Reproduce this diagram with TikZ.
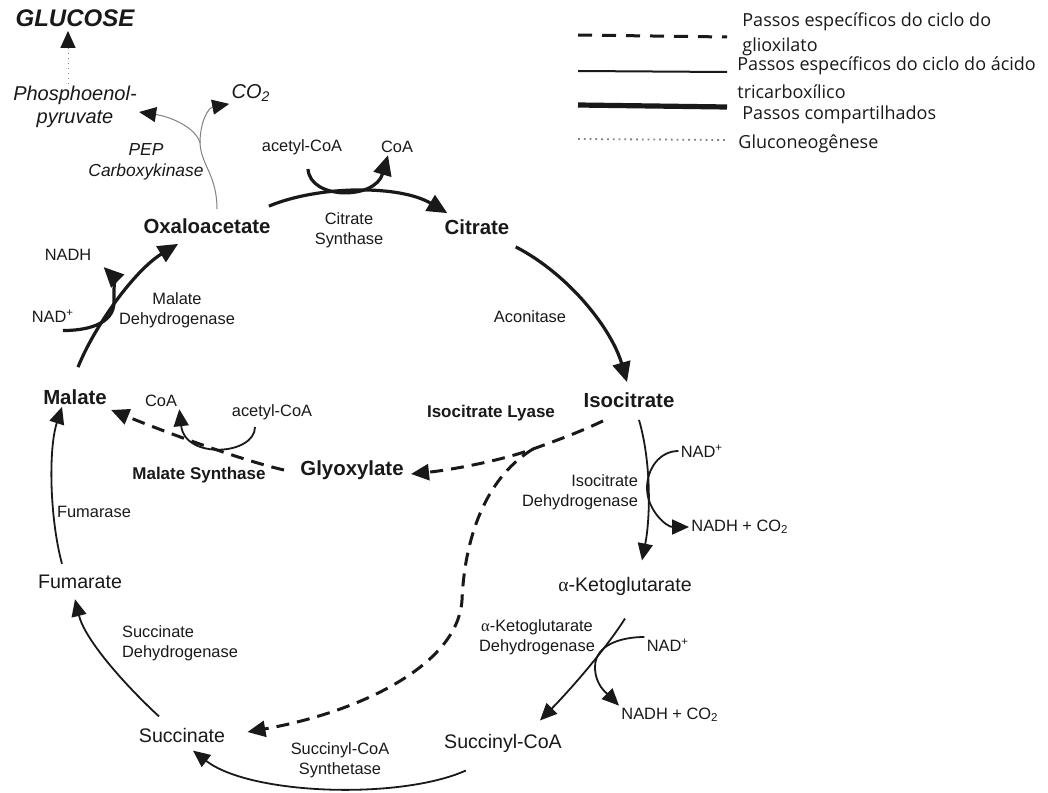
\documentclass[tikz,border=0pt]{standalone}
\usepackage{fontspec}
\setmainfont{Liberation Sans}
\newfontfamily\legendfont{Open Sans}
\newfontfamily\greekfont{Liberation Serif}
\usepackage{tikz}
\usetikzlibrary{arrows.meta,calc}
\definecolor{ink}{RGB}{25,25,25}
\definecolor{pepgray}{RGB}{130,130,130}
\newcommand{\alphaK}{{\greekfont α}}

\begin{document}
\begin{tikzpicture}[x=0.5pt, y=-0.5pt,
    every node/.style={inner sep=1pt, text=ink},
    metab/.style={font=\fontsize{10.2}{12}\selectfont\bfseries},
    metabplain/.style={font=\fontsize{9.8}{12}\selectfont},
    enzyme/.style={font=\fontsize{8.2}{9.8}\selectfont, align=center},
    enzymebold/.style={font=\fontsize{8.5}{10}\selectfont\bfseries},
    cofactor/.style={font=\fontsize{8.2}{10}\selectfont},
    gluconeo/.style={font=\fontsize{10}{11.5}\selectfont\itshape, align=center},
    legtext/.style={font=\fontsize{9}{12.5}\selectfont\legendfont, anchor=west, align=left},
    headarrow/.style={-{Triangle[length=8.5pt,width=7.5pt,color=ink]}},
    shared/.style={draw=ink, line width=1.6pt, -{Triangle[length=10pt,width=9pt]}},
    tca/.style={draw=ink, line width=0.9pt, headarrow},
    glyox/.style={draw=ink, line width=1.5pt, dash pattern=on 6.5pt off 4pt,
      -{Triangle[length=9pt,width=8pt]}},
    gluco/.style={draw=pepgray, line width=0.5pt, headarrow}]

  \fill[white] (0,0) rectangle (1048,792);
  \useasboundingbox (0,0) rectangle (1048,792);

  % metabolites
  \node[metab] (oaa) at (207,226) {Oxaloacetate};
  \node[metab] (cit) at (477,227) {Citrate};
  \node[metab] (icit) at (629,400) {Isocitrate};
  \node[metabplain] (akg) at (625,586) {\alphaK-Ketoglutarate};
  \node[metabplain] (sucoa) at (503,743) {Succinyl-CoA};
  \node[metabplain] (succ) at (182,735) {Succinate};
  \node[metabplain] (fum) at (80,582) {Fumarate};
  \node[metab] (mal) at (75,397) {Malate};
  \node[metab] (glx) at (352,470) {Glyoxylate};

  % gluconeogenesis
  \node[font=\fontsize{12}{14}\selectfont\bfseries\itshape] (glucose) at (75,18) {GLUCOSE};
  \node[gluconeo] (pep) at (75,107) {Phosphoenol-\\pyruvate};
  \node[gluconeo] (co2) at (251,93) {CO\textsubscript{2}};
  \node[gluconeo, font=\fontsize{8.7}{10.5}\selectfont\itshape] (pepck) at (146,162) {PEP\\Carboxykinase};

  % enzymes and cofactors
  \node[cofactor] (acoa1) at (302,147) {acetyl-CoA};
  \node[cofactor] (coa1) at (397,147) {CoA};
  \node[enzyme] (cs) at (349,230) {Citrate\\Synthase};
  \node[enzyme] (aco) at (530,317) {Aconitase};
  \node[enzymebold] (icl) at (491,413) {Isocitrate Lyase};
  \node[cofactor] (nad2) at (702,451) {NAD\textsuperscript{+}};
  \node[enzyme, align=right] (idh) at (580,492) {Isocitrate\\Dehydrogenase};
  \node[cofactor] (nadh2) at (740,527) {NADH + CO\textsubscript{2}};
  \node[enzyme] (kgdh) at (537,637) {\alphaK-Ketoglutarate\\Dehydrogenase};
  \node[cofactor] (nad3) at (668,645) {NAD\textsuperscript{+}};
  \node[cofactor] (nadh3) at (670,715) {NADH + CO\textsubscript{2}};
  \node[enzyme] (scs) at (340,760) {Succinyl-CoA\\Synthetase};
  \node[enzyme, align=left] (sdh) at (180,643) {Succinate\\Dehydrogenase};
  \node[enzyme] (fumase) at (94,512) {Fumarase};
  \node[cofactor] (coa2) at (161,401) {CoA};
  \node[cofactor] (acoa2) at (272,412) {acetyl-CoA};
  \node[enzymebold] (ms) at (199,475) {Malate Synthase};
  \node[cofactor] (nadh1) at (68,255) {NADH};
  \node[cofactor] (nad1) at (53,316) {NAD\textsuperscript{+}};
  \node[enzyme] (mdh) at (177,310) {Malate\\Dehydrogenase};

  % legend
  \node[legtext] (leg1) at (740,34) {Passos específicos do ciclo do\\glioxilato};
  \node[legtext, font=\fontsize{9}{14}\selectfont\legendfont] (leg2) at (735,78) {Passos específicos do ciclo do ácido\\tricarboxílico};
  \node[legtext] (leg3) at (740,115) {Passos compartilhados};
  \node[legtext] (leg4) at (736,144) {Gluconeogênese};
  \draw[draw=ink, line width=1.5pt, dash pattern=on 7pt off 5pt] (578,35) -- (727,37);
  \draw[draw=ink, line width=1pt] (578,71) -- (727,72);
  \draw[draw=ink, line width=2.6pt] (578,105) -- (727,107);
  \draw[draw=pepgray, line width=0.9pt, dotted] (578,139) -- (727,140);

  % gluconeogenesis branch
  \coordinate (fork) at (200,143);
  \draw[gluco, dotted] ([xshift=-3.5pt]pep.north) -- ([xshift=-3.5pt,yshift=-1pt]glucose.south);
  \draw[draw=pepgray, line width=0.5pt] ([xshift=5pt,yshift=3.5pt]oaa.north) .. controls (217,175) and (201,165) .. (fork);
  \draw[gluco] (fork) .. controls (196,128) and (172,117) .. ([yshift=-2.5pt]pep.east);
  \draw[gluco] (fork) .. controls (200,122) and (208,108) .. (co2.south west);

  % shared steps
  \draw[shared] ([xshift=-2pt,yshift=5pt]oaa.north east) .. controls (320,185) and (400,185) .. ([xshift=2.5pt,yshift=2pt]cit.north west);
  \draw[shared] ([xshift=3pt,yshift=-6pt]acoa1.south) .. controls (310,200) and (375,200) .. ([xshift=-4.5pt]coa1.south);
  \draw[shared] ([xshift=2pt,yshift=-5pt]cit.south east) .. controls (570,275) and (612,330) .. ([xshift=-1pt,yshift=4pt]icit.north);
  \draw[shared] ([xshift=1.5pt,yshift=10pt]mal.north) .. controls (95,325) and (135,270) .. ([xshift=18.5pt,yshift=-4pt]oaa.south west);
  \draw[shared] ([xshift=5pt,yshift=-3pt]nad1.south) to[out=0,in=-90] (114,302) to[out=90,in=-45] ([xshift=5pt,yshift=-2pt]nadh1.south east);

  % tricarboxylic acid cycle steps
  \draw[tca] ([xshift=5pt,yshift=-5pt]icit.south) .. controls (652,465) and (650,520) .. ([xshift=8.5pt,yshift=7pt]akg.north);
  \draw[tca] (nad2.west) to[out=180,in=90] (647,488) to[out=-90,in=180] (nadh2.west);
  \draw[tca] ([yshift=-10.5pt]akg.south) .. controls (605,650) and (570,690) .. ([xshift=18.5pt,yshift=5.5pt]sucoa.north);
  \draw[tca] ([yshift=4pt]nad3.west) to[out=180,in=90] (595,667) to[out=-90,in=135] (nadh3.north west);
  \draw[tca] ([xshift=12pt,yshift=-8pt]sucoa.south west) .. controls (400,800) and (250,795) .. ([xshift=5.5pt,yshift=-3pt]succ.south);
  \draw[tca] ([xshift=-11.5pt,yshift=4.5pt]succ.north) .. controls (125,685) and (85,640) .. ([xshift=-2.5pt,yshift=-4pt]fum.south);
  \draw[tca] ([xshift=-9pt,yshift=4.5pt]fum.north) .. controls (50,520) and (48,450) .. ([xshift=-6.5pt]mal.south);

  % glyoxylate cycle steps
  \coordinate (split) at (533,449);
  \draw[glyox] ([xshift=-13pt,yshift=-5.5pt]icit.south) .. controls (580,432) and (555,441) .. (split) .. controls (500,461) and (450,470) .. ([xshift=2.5pt,yshift=-2pt]glx.east);
  \draw[glyox] (split) .. controls (490,475) and (465,530) .. (462,600) .. controls (458,665) and (360,712) .. ([xshift=10pt,yshift=1.5pt]succ.east);
  \draw[glyox] ([xshift=-7pt]glx.west) .. controls (240,460) and (160,430) .. ([xshift=1pt,yshift=-6.5pt]mal.east);
  \draw[tca] ([xshift=-8.5pt,yshift=-2.5pt]acoa2.south) .. controls (255,455) and (185,460) .. (coa2.south east);
\end{tikzpicture}
\end{document}
